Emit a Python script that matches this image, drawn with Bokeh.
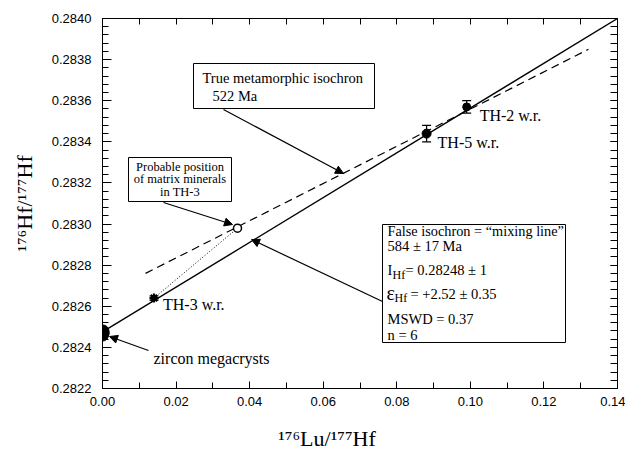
from bokeh.plotting import figure
from bokeh.models import (Label, Arrow, NormalHead, BoxAnnotation, Whisker, TeeHead,
                          ColumnDataSource, FixedTicker, PrintfTickFormatter, LinearAxis,
                          Range1d, CustomJSTickFormatter)
from bokeh.core.properties import value
from bokeh.embed import file_html
from bokeh.resources import INLINE

# ---------------- data ----------------
zircon_x = [0.0000, 0.0002, 0.0001]
zircon_y = [0.28246, 0.28247, 0.28248]

wr_names = ["TH-3 w.r.", "TH-5 w.r.", "TH-2 w.r."]
wr_x = [0.0140, 0.0881, 0.0990]
wr_y = [0.28264, 0.28344, 0.28357]
wr_err = [0.00001, 0.00004, 0.00003]

matrix_x = [0.0367]
matrix_y = [0.28298]

# false isochron ("mixing line") and true metamorphic isochron end points
false_iso_x = [0.0, 0.14]
false_iso_y = [0.282475, 0.28400]
true_iso_x = [0.0117, 0.1321]
true_iso_y = [0.28276, 0.28385]

x_ticks = [0.00, 0.02, 0.04, 0.06, 0.08, 0.10, 0.12, 0.14]
x_minor = [0.01, 0.03, 0.05, 0.07, 0.09, 0.11, 0.13]
y_ticks = [0.2822, 0.2824, 0.2826, 0.2828, 0.2830, 0.2832, 0.2834, 0.2836, 0.2838, 0.2840]
y_minor = [round(0.2822 + i * 0.00004, 5) for i in range(46)]

x_title = "\u00b9\u2077\u2076Lu/\u00b9\u2077\u2077Hf"
y_title = "\u00b9\u2077\u2076Hf/\u00b9\u2077\u2077Hf"

# ---------------- figure ----------------
SERIF = "Liberation Serif"
SANS = "Liberation Sans"

# frame: left 102, top 18, right 617, bottom 388 (page pixels)
p = figure(width=625, height=454, output_backend="svg", toolbar_location=None,
           x_range=Range1d(0.0, 0.14), y_range=Range1d(0.2822, 0.2840),
           min_border_left=102, min_border_right=8, min_border_top=18, min_border_bottom=66)
p.xgrid.visible = False
p.ygrid.visible = False
p.outline_line_color = "black"
p.outline_line_width = 1
p.background_fill_color = "white"
p.border_fill_color = "white"

xa = p.xaxis[0]
xa.ticker = FixedTicker(ticks=x_ticks, minor_ticks=x_minor)
xa.formatter = PrintfTickFormatter(format="%.2f")
ya = p.yaxis[0]
ya.ticker = FixedTicker(ticks=y_ticks, minor_ticks=y_minor)
ya.formatter = PrintfTickFormatter(format="%.4f")
for ax in (xa, ya):
    ax.major_tick_out = 0
    ax.minor_tick_out = 0
    ax.axis_line_color = "black"
    ax.major_tick_line_color = "black"
    ax.minor_tick_line_color = "black"
    ax.major_label_text_font = SANS
    ax.major_label_text_font_size = "13px"
    ax.major_label_text_color = "black"
    ax.axis_label_text_font = SERIF
    ax.axis_label_text_font_size = "22px"
    ax.axis_label_text_font_style = "normal"
    ax.axis_label_text_color = "black"
xa.major_tick_in = 7
xa.minor_tick_in = 6
xa.major_label_standoff = 8
ya.major_tick_in = 9
ya.minor_tick_in = 6
ya.major_label_standoff = 11

# trailing em-spaces move the centred x title a little to the left, as in the original
xa.axis_label = x_title + "\u2003\u2003\u2003"
xa.axis_label_standoff = 17
ya.axis_label = y_title
ya.axis_label_standoff = 12

blank = CustomJSTickFormatter(code="return ''")
top = LinearAxis(ticker=FixedTicker(ticks=x_ticks, minor_ticks=x_minor),
                 formatter=blank, major_tick_in=6, minor_tick_in=6, major_tick_out=0, minor_tick_out=0,
                 major_label_text_font_size="0px", major_label_standoff=0)
right = LinearAxis(ticker=FixedTicker(ticks=y_ticks, minor_ticks=y_minor),
                   formatter=blank, major_tick_in=7, minor_tick_in=7, major_tick_out=0, minor_tick_out=0,
                   major_label_text_font_size="0px", major_label_standoff=0)
p.add_layout(top, "above")
p.add_layout(right, "right")

# ---------------- lines ----------------
p.line(false_iso_x, false_iso_y, line_color="black", line_width=1.4)
p.line(true_iso_x, true_iso_y, line_color="black", line_width=1.2, line_dash="8 5")
p.line([wr_x[0], matrix_x[0]], [wr_y[0], matrix_y[0]], line_color="black", line_width=1,
       line_dash="1 2")

# ---------------- points ----------------
p.scatter(zircon_x, zircon_y, size=12, color="black")
src = ColumnDataSource(dict(x=wr_x, y=wr_y, lo=[y - e for y, e in zip(wr_y, wr_err)],
                            hi=[y + e for y, e in zip(wr_y, wr_err)], name=wr_names,
                            dx=[9, 11, 13], dy=[6, 9, 9]))
p.add_layout(Whisker(source=src, base="x", upper="hi", lower="lo", dimension="height",
                     line_color="black", line_width=1.2,
                     upper_head=TeeHead(size=9, line_color="black", line_width=1.2),
                     lower_head=TeeHead(size=9, line_color="black", line_width=1.2)))
p.scatter(wr_x[:1], wr_y[:1], marker="asterisk", size=9, line_width=2.2, color="black")
p.scatter(wr_x[1:], wr_y[1:], size=[9, 8], color="black")
p.scatter(matrix_x, matrix_y, size=8, fill_color="white", line_color="black", line_width=1.5)

p.text(x="x", y="y", text="name", source=src, x_offset="dx", y_offset="dy",
       text_font=value(SERIF), text_font_size="16px", text_baseline="middle",
       text_align="left", text_color="black")

# ---------------- annotation layout helpers (page pixel -> data) ----------------
FL, FB = 102, 388


def X(px):
    return (px - FL) / 515 * 0.14


def Y(py):
    return 0.2822 + (FB - py) / 370 * 0.0018


def lab(px, py, text, size="14.5px", align="left"):
    p.add_layout(Label(x=X(px), y=Y(py), text=text, text_font=SERIF, text_font_size=size,
                       text_baseline="middle", text_align=align, text_color="black"))


def box(l, t, r, b):
    p.add_layout(BoxAnnotation(left=X(l), right=X(r), top=Y(t), bottom=Y(b),
                               fill_color="white", fill_alpha=1.0, line_color="black",
                               line_width=1, line_alpha=1.0))


def arrow(x0, y0, x1, y1):
    p.add_layout(Arrow(x_start=X(x0), y_start=Y(y0), x_end=X(x1), y_end=Y(y1),
                       line_color="black", line_width=1.2,
                       end=NormalHead(size=8, fill_color="black", line_color="black")))


def uline(x0, x1, py):
    p.segment(x0=[X(x0)], y0=[Y(py)], x1=[X(x1)], y1=[Y(py)], line_color="black", line_width=1)


# zircon label
lab(153, 358, "zircon megacrysts", size="16px")
arrow(148, 350, 109, 336)

# true isochron box
box(193, 63, 374, 108)
lab(202, 77, "True metamorphic isochron")
uline(202, 365, 85)
lab(212, 95, "522 Ma")
arrow(223, 109, 343, 173)

# probable position box
box(128, 157, 231, 201)
lab(179.5, 166, "Probable position", size="12.5px", align="center")
lab(179.5, 178.5, "of matrix minerals", size="12.5px", align="center")
lab(179.5, 191.5, "in TH-3", size="12.5px", align="center")
arrow(163, 202, 232, 224)

# false isochron box
box(382, 224, 565, 342)
lab(387, 230, "False isochron = \u201cmixing line\u201d", size="14.3px")
uline(387, 562, 237)
lab(387, 245, "584 \u00b1 17 Ma")
lab(387, 269, "I")
lab(392, 274, "Hf", size="12px")
lab(405, 269, "= 0.28248 \u00b1 1")
lab(386, 292, "\u03b5", size="20px")
lab(394, 297, "Hf", size="12px")
lab(410, 293, "= +2.52 \u00b1 0.35")
lab(387, 318, "MSWD = 0.37")
lab(387, 334, "n = 6")
arrow(382, 301, 251, 239)

open("out.html", "w").write(file_html(p, INLINE))
